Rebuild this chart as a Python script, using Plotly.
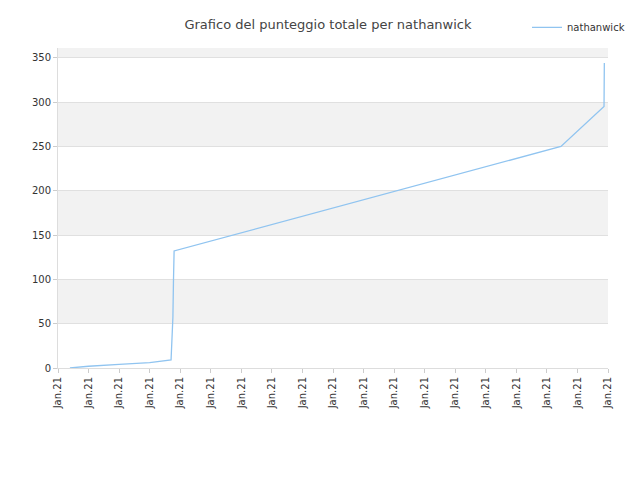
import plotly.graph_objects as go

# posizioni (indice di tick) e punteggi
x_pos = [0.39, 1.0, 2.0, 3.0, 3.70, 3.71, 3.76, 3.78, 3.80, 16.46, 17.87, 17.88]
score = [0, 2, 4, 6, 9, 15, 57, 100, 132, 250, 295, 344]
tick_pos = list(range(19))
tick_text = ["Jan.21"] * 19
gray_bands = [50, 150, 250, 350]

fig = go.Figure()
fig.add_trace(go.Scatter(x=x_pos, y=score, mode="lines", name="nathanwick",
                         line=dict(color="#90c4f0", width=1.3)))
for b in gray_bands:
    fig.add_shape(type="rect", xref="paper", x0=0, x1=1, y0=b, y1=b + 50,
                  fillcolor="#f2f2f2", line_width=0, layer="below")

fig.update_layout(
    width=640, height=480, margin=dict(l=50, r=40, t=40, b=120, autoexpand=False),
    paper_bgcolor="white", plot_bgcolor="white",
    title=dict(text="Grafico del punteggio totale per nathanwick", x=0.5, y=0.975,
               font=dict(family="DejaVu Sans", size=13, color="#444")),
    font=dict(family="DejaVu Sans", size=10, color="#333"),
    showlegend=True,
    legend=dict(x=1.04, y=1.11, xanchor="right", yanchor="top", font=dict(size=10)),
    xaxis=dict(range=[0, 18], tickvals=tick_pos, ticktext=tick_text, tickangle=-90,
               showgrid=False, showline=True, linecolor="#ddd", ticks="outside",
               ticklen=4, tickcolor="#ccc", zeroline=False, automargin=False),
    yaxis=dict(range=[0, 361], tickvals=[0, 50, 100, 150, 200, 250, 300, 350],
               showgrid=True, gridcolor="#e0e0e0", showline=True, linecolor="#ddd",
               ticks="outside", ticklen=4, tickcolor="#ccc", zeroline=False,
               automargin=False),
)
fig.write_html("out.html")
